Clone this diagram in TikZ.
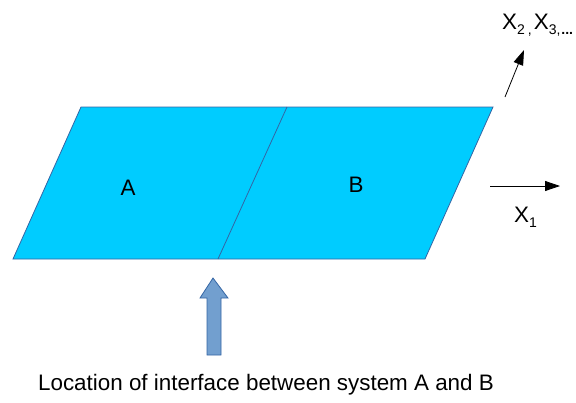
\documentclass[tikz,border=0pt]{standalone}
\usepackage{fontspec}
\setmainfont{Liberation Sans}
\usetikzlibrary{arrows.meta}
\definecolor{slabfill}{HTML}{00CCFF}
\definecolor{slabline}{HTML}{3465A4}
\definecolor{markfill}{HTML}{729FCF}
\newcommand{\lowidx}[1]{\raisebox{-0.45ex}{\fontsize{14}{14}\selectfont #1}}
\tikzset{
  slab/.style={draw=slabline, fill=slabfill, line width=0.8pt, line join=miter},
  slab-split/.style={draw=slabline, line width=0.8pt},
  axis-arrow/.style={-{Triangle[length=15pt,width=10pt]}, line width=0.8pt, black},
  marker/.style={draw=slabline, fill=markfill, line width=0.8pt},
  big-label/.style={font=\fontsize{22.4}{26}\selectfont, inner sep=0pt}
}
\begin{document}
\begin{tikzpicture}[x=1pt, y=-1pt]
  \useasboundingbox (0,0) rectangle (576,402);

  % Slab corners
  \coordinate (tl) at (81,107);
  \coordinate (tr) at (493,107);
  \coordinate (br) at (425,259);
  \coordinate (bl) at (13,259);
  \coordinate (splittop) at (287,107);
  \coordinate (splitbot) at (218,259);

  % Slab with the two systems
  \draw[slab] (tl) -- (tr) -- (br) -- (bl) -- cycle;
  \draw[slab-split] (splittop) -- (splitbot);
  \node[big-label] (sysA) at (128,188) {A};
  \node[big-label] (sysB) at (356,185) {B};

  % Directions
  \coordinate (x1start) at (490,186);
  \coordinate (x1end) at (560,186);
  \draw[axis-arrow] (x1start) -- (x1end);
  \node[big-label, anchor=base west] (x1lab) at (514,222) {X\lowidx{1}};

  \coordinate (xnstart) at (505,97);
  \coordinate (xnend) at (524,50);
  \draw[axis-arrow] (xnstart) -- (xnend);
  \node[big-label, anchor=base west] (xnlab) at (502,29)
    {X\lowidx{2\kern3pt,}\kern2ptX\lowidx{3,\kern1pt\textbf{...}}};

  % Interface marker
  \draw[marker] (213,278) -- (228,298) -- (221,298) -- (221,355)
    -- (207,355) -- (207,298) -- (200,298) -- cycle;
  \node[big-label] (caption) at (266,385) {Location of interface between system A and B};
\end{tikzpicture}
\end{document}
